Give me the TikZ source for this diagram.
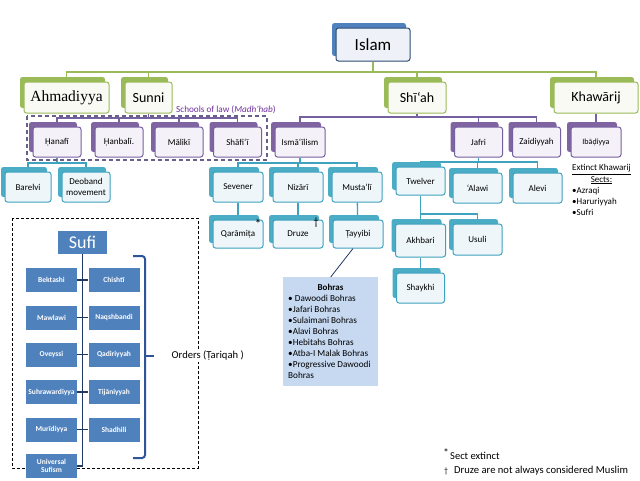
\documentclass[tikz,border=0pt]{standalone}
\usepackage{fontspec}
\setmainfont{Carlito}
\newfontfamily\ahmfont{Liberation Serif}
\usetikzlibrary{backgrounds}
\definecolor{gshad}{HTML}{9BBB59}
\definecolor{gline}{HTML}{9BBB59}
\definecolor{gfillc}{HTML}{F8FAF3}
\definecolor{pshad}{HTML}{8064A2}
\definecolor{pline}{HTML}{7560A0}
\definecolor{pfillc}{HTML}{F4F1F8}
\definecolor{tshad}{HTML}{4BACC6}
\definecolor{tline}{HTML}{3FA2BE}
\definecolor{tfillc}{HTML}{EEF6FA}
\definecolor{bshad}{HTML}{4F81BD}
\definecolor{bline}{HTML}{2C4D75}
\definecolor{bfillc}{HTML}{EEF2F8}
\definecolor{bohrac}{HTML}{C6D9F1}
\definecolor{navy}{HTML}{1F3864}
\definecolor{bracec}{HTML}{2E5597}
\definecolor{lawc}{HTML}{7030A0}
\definecolor{dashc}{HTML}{66608A}
\tikzset{
 frontbox/.style={rounded corners=2.5pt, line width=1pt, align=center, inner sep=1pt, text=black},
 gfront/.style={frontbox, draw=gline, fill=gfillc, font=\fontsize{14}{16}\selectfont},
 pfront/.style={frontbox, draw=pline, fill=pfillc, font=\fontsize{9}{10.5}\selectfont},
 tfront/.style={frontbox, draw=tline, fill=tfillc, font=\fontsize{9}{10.5}\selectfont},
 bfront/.style={frontbox, draw=bline, fill=bfillc, font=\fontsize{17}{19}\selectfont},
 gconn/.style={draw=gline, line width=1.1pt},
 pconn/.style={draw=pline, line width=1.1pt},
 tconn/.style={draw=tline, line width=1.3pt},
 sufibox/.style={fill=bshad, text=white, font=\bfseries\fontsize{7.5}{8.5}\selectfont, align=center, inner sep=0.5pt, minimum width=51pt, minimum height=24pt},
 suficonn/.style={draw=navy, line width=1.2pt},
 plain/.style={inner sep=0, text=black},
}
\newcommand{\mkbox}[7]{%
 \fill[#2shad, rounded corners=2.5pt] ({#3-#5/2-4},{#4-#6/2-5}) rectangle ++(#5,#6);
 \node[#2front, minimum width=#5pt, minimum height=#6pt] (#1) at (#3,#4) {#7};}
\begin{document}
\begin{tikzpicture}[x=1pt,y=-1pt]
\useasboundingbox (0,0) rectangle (640,480);
\begin{scope}[on background layer]
 \fill[white] (0,0) rectangle (640,480);
\end{scope}
% level 0
\mkbox{islam}{b}{373}{44.5}{74}{33}{Islam}
% level 1
\mkbox{ahmad}{g}{66.5}{97.5}{85}{31}{\ahmfont\fontsize{15.5}{17}\selectfont Ahmadiyya}
\mkbox{sunni}{g}{148.5}{97.5}{47}{31}{Sunni}
\mkbox{shia}{g}{417}{97.5}{58}{31}{Shī‘ah}
\mkbox{khaw}{g}{596}{97.5}{84}{31}{Khawārij}
% level 2
\mkbox{hanafi}{p}{57}{142}{48}{30}{Ḥanafī}
\mkbox{hanbali}{p}{119}{142}{48}{30}{Ḥanbalī.}
\mkbox{maliki}{p}{179}{142}{48}{30}{Mālikī}
\mkbox{shafii}{p}{237.5}{142}{48}{30}{Shāfi‘ī}
\mkbox{isma}{p}{300}{142}{50}{30}{Ismā‘īlism}
\mkbox{jafri}{p}{478.5}{142}{48}{30}{Jafri}
\mkbox{zaid}{p}{536.5}{142}{48}{30}{Zaidiyyah}
\mkbox{ibad}{p}{596}{142}{50}{30}{\fontsize{8}{9}\selectfont Ibāḍiyya}
\draw[dashc, line width=1.3pt, dash pattern=on 4pt off 3pt] (27,116) rectangle (267,160);
\node[anchor=west, text=lawc, font=\fontsize{9.2}{10}\selectfont, inner sep=0] (law) at (176,109.5) {Schools of law (\textit{Madh’hab})};
% level 3
\mkbox{barelvi}{t}{28}{187}{46}{30}{Barelvi}
\mkbox{deoband}{t}{86}{187}{48}{30}{Deoband\\movement}
\mkbox{sevener}{t}{238}{187}{50}{30}{Sevener}
\mkbox{nizari}{t}{298}{187}{50}{30}{Nizārī}
\mkbox{mustali}{t}{357}{187}{50}{30}{Musta‘lī}
\mkbox{twelver}{t}{420.5}{181}{49}{28}{Twelver}
\mkbox{alawi}{t}{477.5}{188}{49}{30}{‘Alawi}
\mkbox{alevi}{t}{537.5}{188}{49}{30}{Alevi}
% level 4
\mkbox{qaramita}{t}{238}{234}{50}{28}{Qarāmiṭa}
\mkbox{druze}{t}{298}{234}{50}{28}{Druze}
\mkbox{tayyibi}{t}{358}{234}{50}{28}{Ṭayyibi}
\mkbox{akhbari}{t}{420.5}{240.5}{50}{33}{Akhbari}
\mkbox{usuli}{t}{477.5}{239.5}{49}{31}{Usuli}
\mkbox{shaykhi}{t}{420.5}{288}{48}{30}{Shaykhi}
\node[plain, font=\fontsize{13}{13}\selectfont] (star) at (258,224) {*};
\node[plain, font=\fontsize{11}{11}\selectfont] (dag) at (316,223) {†};
% Bohras
\node[fill=bohrac, minimum width=95pt, minimum height=109pt, inner sep=0, anchor=north west] (bohras) at (283,277) {};
\node[plain, font=\bfseries\fontsize{9}{11}\selectfont] (bohrast) at (330.5,287) {Bohras};
\node[plain, anchor=north west, align=left, font=\fontsize{9.2}{11.1}\selectfont] (bohrasl) at (288,294.5) {• Dawoodi Bohras\\•Jafari Bohras\\•Sulaimani Bohras\\•Alavi Bohras\\•Hebitahs Bohras\\•Atba-I Malak Bohras\\•Progressive Dawoodi\\Bohras};
\draw[navy, line width=0.8pt] ([xshift=-5pt]tayyibi.south) -- (bohras.north);
% Khawarij extinct
\node[plain, anchor=north west, font=\fontsize{9}{11}\selectfont] (extinct) at (572,163) {\begin{tabular}{@{}l@{}}\underline{Extinct Khawarij}\\\multicolumn{1}{@{}c@{}}{\underline{Sects:}}\\•Azraqi\\•Haruriyyah\\•Sufri\end{tabular}};
% Sufi
\draw[black, line width=1pt, dash pattern=on 3pt off 2pt] (12,218) rectangle (198,468);
\node[fill=bshad, text=white, font=\fontsize{18}{18}\selectfont, minimum width=49pt, minimum height=23pt, inner sep=0] (sufi) at (82.5,242.5) {Sufi};
\node[sufibox] (bek) at (51.5,280) {Bektashi};
\node[sufibox] (chi) at (114,280) {Chishtī};
\node[sufibox] (maw) at (51.5,317.5) {Mawlawi};
\node[sufibox] (naq) at (114,317.5) {Naqshbandi};
\node[sufibox] (ove) at (51.5,354.5) {Oveyssi};
\node[sufibox] (qad) at (114,354.5) {Qadiriyyah};
\node[sufibox] (suh) at (51.5,392) {Suhrawardiyya};
\node[sufibox] (tij) at (114,392) {Tijāniyyah};
\node[sufibox] (mur) at (51.5,429.5) {Murīdiyya};
\node[sufibox] (sha) at (114,429.5) {Shadhili};
\node[sufibox] (univ) at (51.5,466) {Universal\\Sufism};
\draw[bracec, line width=2pt, rounded corners=3pt] (133,256) -- (145,256) -- (145,458) -- (133,458);
\draw[bracec, line width=2pt] (145,356) -- (154,356);
\node[anchor=west, fill=white, inner sep=1.5pt, font=\fontsize{10.6}{12}\selectfont] (orders) at (170,356) {Orders (Ṭariqah )};
% footnotes
\node[plain, font=\fontsize{11}{11}\selectfont] (fstar) at (446,453) {*};
\node[plain, anchor=west, font=\fontsize{10.5}{12}\selectfont] (fn1) at (450,456) {Sect extinct};
\node[plain, font=\fontsize{8}{9}\selectfont] (fdag) at (446,471) {†};
\node[plain, anchor=west, font=\fontsize{10.6}{12}\selectfont] (fn2) at (454,471) {Druze are not always considered Muslim};
% connectors
\begin{scope}[on background layer]
 \draw[gconn] (islam.south) -- (islam.south |- 0,72);
 \draw[gconn] (ahmad.north) |- (khaw.north |- 0,72) -- (khaw.north);
 \draw[gconn] (sunni.north) -- (sunni.north |- 0,72);
 \draw[gconn] (shia.north) -- (shia.north |- 0,72);
 \draw[pconn] (sunni.south) -- (sunni.south |- 0,118);
 \draw[pconn] (hanafi.north) |- (shafii.north |- 0,118) -- (shafii.north);
 \draw[pconn] (hanbali.north) -- (hanbali.north |- 0,118);
 \draw[pconn] (maliki.north) -- (maliki.north |- 0,118);
 \draw[pconn] (shia.south) -- (shia.south |- 0,117);
 \draw[pconn] (isma.north) |- (zaid.north |- 0,117) -- (zaid.north);
 \draw[pconn] (jafri.north) -- (jafri.north |- 0,117);
 \draw[pconn] (khaw.south) -- (ibad.north);
 \draw[tconn] (hanafi.south) -- (hanafi.south |- 0,163);
 \draw[tconn] (barelvi.north) |- (deoband.north |- 0,163) -- (deoband.north);
 \draw[tconn] (isma.south) -- (isma.south |- 0,163);
 \draw[tconn] (sevener.north) |- (mustali.north |- 0,163) -- (mustali.north);
 \draw[tconn] (nizari.north) -- (nizari.north |- 0,163);
 \draw[tconn] (jafri.south) -- (jafri.south |- 0,162);
 \draw[tconn] (twelver.north) |- (alevi.north |- 0,162) -- (alevi.north);
 \draw[tconn] (alawi.north) -- (alawi.north |- 0,162);
 \draw[tconn] (twelver.south) -- (twelver.south |- 0,214);
 \draw[tconn] (akhbari.north) |- (usuli.north |- 0,214) -- (usuli.north);
 \draw[tconn] (sevener) -- (qaramita);
 \draw[tconn] (nizari) -- (druze);
 \draw[tconn] (mustali) -- (tayyibi);
 \draw[tconn] (akhbari) -- (shaykhi);
 \draw[suficonn] (sufi.south) -- (sufi.south |- univ.east) -- (univ.east);
 \foreach \a/\b in {bek/chi, maw/naq, ove/qad, suh/tij, mur/sha} \draw[suficonn] (\a.east) -- (\b.west);
\end{scope}
\end{tikzpicture}
\end{document}
